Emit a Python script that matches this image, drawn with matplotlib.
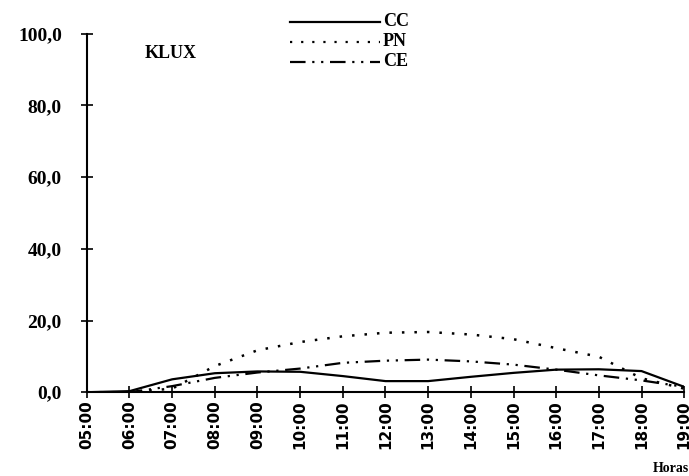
import matplotlib.pyplot as plt
from matplotlib.lines import Line2D
from matplotlib.ticker import FuncFormatter

hours = ["05:00", "06:00", "07:00", "08:00", "09:00", "10:00", "11:00", "12:00",
         "13:00", "14:00", "15:00", "16:00", "17:00", "18:00", "19:00"]
cc = [0.0, 0.3, 3.6, 5.3, 5.8, 5.7, 4.5, 3.1, 3.1, 4.3, 5.4, 6.3, 6.4, 5.9, 1.5]
pn = [0.0, 0.0, 1.0, 7.3, 11.7, 14.0, 15.6, 16.6, 16.8, 16.1, 14.8, 12.3, 9.9, 3.9, 1.0]
ce = [0.0, 0.0, 1.7, 4.0, 5.5, 6.6, 8.2, 8.8, 9.1, 8.6, 7.7, 6.3, 4.7, 3.3, 1.5]

serif = "Liberation Serif"

fig = plt.figure(figsize=(6.89, 4.76), dpi=100)
ax = fig.add_axes([0.126, 0.176, 0.867, 0.753])

x = list(range(len(hours)))
ax.plot(x, cc, color="black", lw=1.6, linestyle="-")
ax.plot(x, pn, color="black", lw=1.8, linestyle=(0, (1, 4)))
ax.plot(x, ce, color="black", lw=1.6, linestyle=(0, (7, 3, 1, 3, 1, 3)))

ax.set_xlim(0, len(hours) - 1)
ax.set_ylim(0, 100)
ax.set_xticks(x)
ax.set_xticklabels(hours, rotation=90, fontsize=11, fontweight="bold", family="DejaVu Sans")
ax.set_yticks([0, 20, 40, 60, 80, 100])
ax.yaxis.set_major_formatter(FuncFormatter(lambda v, p: f"{v:.1f}".replace(".", ",")))
for lab in ax.get_yticklabels():
    lab.set_family(serif)
    lab.set_fontweight("bold")
    lab.set_fontsize(14)

ax.spines["top"].set_visible(False)
ax.spines["right"].set_visible(False)
ax.spines["left"].set_linewidth(1.5)
ax.spines["bottom"].set_linewidth(1.5)
ax.tick_params(axis="both", direction="inout", length=8, width=1.2)
ax.tick_params(axis="y", pad=14)
ax.tick_params(axis="x", pad=2)

ax.text(0.097, 0.97, "KLUX", transform=ax.transAxes, family=serif,
        fontweight="bold", fontsize=13, va="top")
fig.text(0.948, 0.003, "Horas", family=serif, fontweight="bold", fontsize=10,
         ha="left", va="bottom")

# legend drawn at top
styles = [("CC", "-"), ("PN", (0, (1, 4))), ("CE", (0, (7, 3, 1, 3, 1, 3)))]
for i, (name, ls) in enumerate(styles):
    yy = 1 - (22 + 20 * i) / 476
    fig.add_artist(Line2D([290 / 689, 380 / 689], [yy, yy], transform=fig.transFigure,
                          color="black", lw=1.6, linestyle=ls))
    fig.text(383 / 689, yy, name, family=serif, fontweight="bold", fontsize=13,
             va="center", ha="left")

fig.savefig("out.png", dpi=100)
